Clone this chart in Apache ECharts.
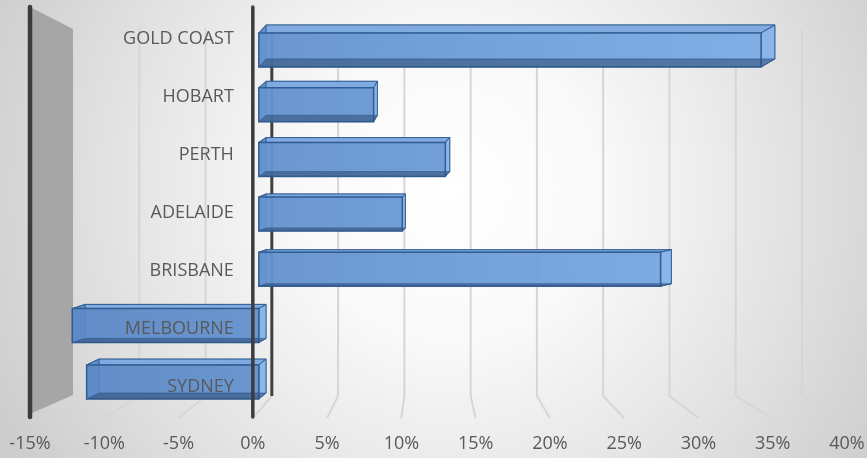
<!DOCTYPE html>
<html>
<head>
<meta charset="utf-8">
<script src="https://cdn.jsdelivr.net/npm/echarts@6/dist/echarts.min.js"></script>
<style>
  html, body { margin: 0; padding: 0; }
  #chart { width: 867px; height: 458px; }
</style>
</head>
<body>
<div id="chart"></div>
<script>
// City names, top to bottom
const cities = ['GOLD COAST', 'HOBART', 'PERTH', 'ADELAIDE', 'BRISBANE', 'MELBOURNE', 'SYDNEY'];
// Growth per city, in percent
const growth = [35, 8, 13, 10, 28, -13, -12];
// Value-axis ticks, in percent
const ticks = [-15, -10, -5, 0, 5, 10, 15, 20, 25, 30, 35, 40];

const AXIS_MIN = -15, AXIS_MAX = 40, AXIS_STEP = 5;
const FONT = '"Open Sans", "Liberation Sans", sans-serif';
const TEXT_COLOR = '#595959';

// Three planes of the 3-D box: front (labels), back wall (grid lines), bar depth
const frontGrid = { left: 30, top: 10, width: 817, height: 406 };
const backGrid = { left: 73, top: 28, width: 729, height: 368 };
const barGrid = { left: 43.6, top: 18.25, width: 789.2, height: 388.5 };
const FRAME_TOP = 7;     // top of the front frame posts
const FLOOR_FRONT = 418; // front edge of the floor
const VANISH = [400, 250];

function frontX(v) {
  return frontGrid.left + (v - AXIS_MIN) / (AXIS_MAX - AXIS_MIN) * frontGrid.width;
}

const chart = echarts.init(document.getElementById('chart'));

// Back wall: grid lines running down the wall and forward across the floor
function renderWall(params, api) {
  const v = api.value(0);
  const top = api.coord([v, 1]);
  const bot = api.coord([v, 0]);
  const fx = frontX(v);
  const children = [];
  if (v === AXIS_MIN) {
    children.push({
      type: 'polygon',
      shape: { points: [[fx + 2, FRAME_TOP + 1], [top[0], top[1] + 1], [bot[0], bot[1] - 1], [fx + 2, FLOOR_FRONT - 5]] },
      style: { fill: '#a6a6a6' }
    });
    return { type: 'group', children: children };
  }
  children.push({
    type: 'line',
    shape: { x1: bot[0], y1: bot[1], x2: fx, y2: FLOOR_FRONT },
    style: { stroke: '#d6d6d6', lineWidth: 2 }
  });
  children.push({
    type: 'line',
    shape: { x1: top[0], y1: top[1], x2: bot[0], y2: bot[1] },
    style: v === 0 ? { stroke: '#404040', lineWidth: 3 } : { stroke: '#d6d6d6', lineWidth: 2 }
  });
  return { type: 'group', children: children };
}

// Front frame posts at the axis minimum and at zero
function renderFrame(params, api) {
  const v = api.value(0);
  const x = api.coord([v, 0])[0];
  return {
    type: 'line',
    shape: { x1: x, y1: FRAME_TOP, x2: x, y2: FLOOR_FRONT - 1 },
    style: { stroke: '#3c3c3c', lineWidth: v === AXIS_MIN ? 4.5 : 3.5, lineCap: 'round' }
  };
}

// 3-D bar: front face, receding back face and the side faces between them
function renderBar(params, api) {
  const v = api.value(0);
  const idx = api.value(1);
  const a = api.coord([0, idx]);
  const b = api.coord([v, idx]);
  const c = a[1];
  const xl = Math.min(a[0], b[0]);
  const xr = Math.max(a[0], b[0]);
  const dy = -(2 + 0.03 * Math.abs(c - VANISH[1]));
  const sx = x => 3 + 0.03 * Math.abs(x - VANISH[0]);
  const yt = c - 17 - dy / 2;
  const yb = c + 17 - dy / 2;
  const FTL = [xl, yt], FTR = [xr, yt], FBR = [xr, yb], FBL = [xl, yb];
  const BTL = [xl + sx(xl), yt + dy], BTR = [xr + sx(xr), yt + dy];
  const BBR = [xr + sx(xr), yb + dy], BBL = [xl + sx(xl), yb + dy];
  const edge = '#2c5a8f';
  const face = (pts, fill, opacity, lw) => ({
    type: 'polygon',
    shape: { points: pts },
    style: { fill: fill, opacity: opacity, stroke: edge, lineWidth: lw || 1 }
  });
  const frontFill = new echarts.graphic.LinearGradient(60, 0, 800, 0, [
    { offset: 0, color: '#5b88c6' },
    { offset: 1, color: '#80b0e8' }
  ], true);
  return {
    type: 'group',
    children: [
      face([BTL, BTR, BBR, BBL], '#5a86c2', 0.55),
      face([FTL, FTR, BTR, BTL], '#7eaae0', 0.95),
      face([FTL, BTL, BBL, FBL], '#5d8ac6', 0.9),
      face([FTR, BTR, BBR, FBR], '#88b6ea', 0.9),
      face([FTL, FTR, FBR, FBL], frontFill, 0.9, 1.5),
      // shaded underside shows through the glassy front face
      face([FBL, FBR, BBR, BBL], '#2f4f78', 0.6)
    ]
  };
}

const plane = g => Object.assign({ containLabel: false, outerBoundsMode: 'none' }, g);

const option = {
  animation: false,
  backgroundColor: {
    type: 'radial', x: 0.52, y: 0.42, r: 1.1,
    colorStops: [
      { offset: 0, color: '#ffffff' },
      { offset: 0.3, color: '#f9f9f9' },
      { offset: 0.65, color: '#e4e4e4' },
      { offset: 1, color: '#cdcdcd' }
    ]
  },
  grid: [plane(frontGrid), plane(backGrid), plane(barGrid)],
  xAxis: [
    {
      gridIndex: 0, type: 'value', min: AXIS_MIN, max: AXIS_MAX, interval: AXIS_STEP,
      axisLine: { show: false }, axisTick: { show: false }, splitLine: { show: false },
      axisLabel: {
        formatter: v => (ticks.indexOf(v) >= 0 ? v + '%' : ''),
        color: TEXT_COLOR, fontSize: 18, fontFamily: FONT, margin: 19
      }
    },
    { gridIndex: 1, type: 'value', min: AXIS_MIN, max: AXIS_MAX, interval: AXIS_STEP, show: false },
    { gridIndex: 2, type: 'value', min: AXIS_MIN, max: AXIS_MAX, interval: AXIS_STEP, show: false }
  ],
  yAxis: [
    {
      // category labels sit just left of the zero post
      gridIndex: 0, type: 'category', data: cities, inverse: true, z: 10,
      offset: -(frontX(0) - frontGrid.left),
      axisLine: { show: false }, axisTick: { show: false }, splitLine: { show: false },
      axisLabel: { color: TEXT_COLOR, fontSize: 18, fontFamily: FONT, margin: 19 }
    },
    { gridIndex: 1, type: 'value', min: 0, max: 1, show: false },
    { gridIndex: 2, type: 'category', data: cities, inverse: true, show: false }
  ],
  series: [
    {
      type: 'custom', name: 'wall', xAxisIndex: 1, yAxisIndex: 1, z: 1, silent: true,
      renderItem: renderWall, data: ticks.map(t => [t])
    },
    {
      type: 'custom', name: 'Growth', xAxisIndex: 2, yAxisIndex: 2, z: 3,
      renderItem: renderBar, data: growth.map((g, i) => [g, i])
    },
    {
      type: 'custom', name: 'frame', xAxisIndex: 0, yAxisIndex: 0, z: 5, silent: true,
      renderItem: renderFrame, data: [[AXIS_MIN], [0]]
    }
  ]
};

chart.setOption(option);
</script>
</body>
</html>
